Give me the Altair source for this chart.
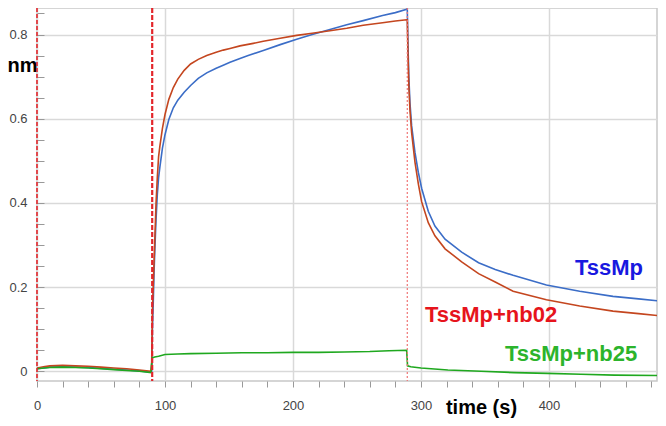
import altair as alt
import pandas as pd

# ---------------- data ----------------
blue_t = [0, 5, 10, 20, 30, 40, 50, 60, 70, 80, 89, 89.6, 90.2, 90.8, 91.5, 92.2, 93, 94, 95, 96, 98, 100, 103,
          106.5, 110, 115, 120, 126, 132.6, 140, 145.5, 150.8, 158.6, 165, 176.8, 190, 202.9, 215, 228.9, 242,
          254.9, 270, 280, 288.8, 289.3, 289.8, 290.5, 291.4, 292.7, 295.3, 297.9, 300.5, 305.7, 310.9, 318.8,
          331.8, 345, 358, 372, 398, 424, 450, 470, 489]
blue_v = [0.006, 0.008, 0.010, 0.011, 0.010, 0.009, 0.007, 0.005, 0.003, 0.001, -0.002, 0.0, 0.10, 0.16, 0.24,
          0.30, 0.36, 0.42, 0.46, 0.485, 0.53, 0.562, 0.598, 0.626, 0.644, 0.663, 0.679, 0.696, 0.709, 0.720,
          0.727, 0.734, 0.743, 0.750, 0.762, 0.776, 0.789, 0.800, 0.812, 0.823, 0.833, 0.845, 0.852, 0.860,
          0.862, 0.78, 0.70, 0.637, 0.583, 0.52, 0.473, 0.435, 0.38, 0.345, 0.314, 0.283, 0.258, 0.242, 0.228,
          0.205, 0.190, 0.178, 0.172, 0.166]

red_t = [0, 5, 10, 20, 30, 40, 50, 60, 70, 80, 89, 89.6, 90.2, 91, 92, 93, 94, 95, 96, 98, 100, 103, 106.5, 110,
         115, 120, 126, 132.6, 140, 145.5, 150.8, 158.6, 169, 176.8, 190, 202.9, 215, 228.9, 242, 254.9, 270, 280,
         288.8, 289.3, 289.8, 290.5, 291.4, 292.7, 295.3, 297.9, 300.5, 305.7, 310.9, 318.8, 331.8, 345, 358, 372,
         398, 424, 450, 470, 489]
red_v = [0.008, 0.011, 0.013, 0.014, 0.013, 0.012, 0.010, 0.008, 0.006, 0.003, 0.0, 0.02, 0.15, 0.22, 0.31, 0.40,
         0.46, 0.51, 0.535, 0.577, 0.610, 0.646, 0.674, 0.694, 0.715, 0.730, 0.741, 0.750, 0.758, 0.763, 0.767,
         0.773, 0.779, 0.784, 0.791, 0.798, 0.803, 0.809, 0.815, 0.822, 0.828, 0.832, 0.835, 0.835, 0.76, 0.68,
         0.62, 0.567, 0.497, 0.446, 0.403, 0.353, 0.322, 0.291, 0.260, 0.232, 0.212, 0.190, 0.170, 0.155, 0.143,
         0.137, 0.131]

green_t = [0, 10, 20, 30, 40, 50, 60, 70, 80, 89, 90, 92, 95, 100, 110, 120, 140, 160, 180, 200, 220, 240, 260,
           275, 288.8, 289.5, 292, 300, 321, 347, 373, 399, 425, 451, 489]
green_v = [0.006, 0.009, 0.010, 0.009, 0.008, 0.006, 0.004, 0.002, 0.0, -0.003, 0.032, 0.034, 0.036, 0.040,
           0.041, 0.042, 0.043, 0.044, 0.044, 0.045, 0.045, 0.046, 0.047, 0.049, 0.050, 0.013, 0.011, 0.008,
           0.003, 0.0, -0.003, -0.005, -0.007, -0.009, -0.010]

phase_heavy = [0, 90]          # start of baseline / association
phase_light = [289.3]          # start of dissociation

label_text = ["TssMp", "TssMp+nb02", "TssMp+nb25"]
label_t = [420.3, 303.1, 365.6]
label_v = [0.229, 0.117, 0.0245]

x_ticks = [0, 20, 40, 60, 80, 100, 120, 140, 160, 180, 200, 220, 240, 260, 280, 300, 320, 340, 360, 380, 400,
           420, 440, 460, 480]
y_ticks = [0, 0.05, 0.1, 0.15, 0.2, 0.25, 0.3, 0.35, 0.4, 0.45, 0.5, 0.55, 0.6, 0.65, 0.7, 0.75, 0.8, 0.85]

X_DOMAIN = [0, 484.4]
Y_DOMAIN = [-0.023, 0.863]

FONT = "Liberation Sans"

xscale = alt.Scale(domain=X_DOMAIN, nice=False, zero=False)
yscale = alt.Scale(domain=Y_DOMAIN, nice=False, zero=False)

x_axis = alt.Axis(
    values=x_ticks,
    labelExpr="datum.value % 100 === 0 ? datum.label : ''",
    labelOverlap=False, labelFlush=False,
    gridOpacity={"condition": {"test": "datum.value % 100 === 0", "value": 1}, "value": 0},
    gridColor="#d9d9d9", gridWidth=1.5,
    tickColor="#999999", tickSize=6, tickWidth=1,
    domain=False,
    labelFont=FONT, labelFontSize=13, labelColor="#444444", labelPadding=12,
    title="time (s)", titleFont=FONT, titleFontSize=20, titleFontWeight="bold", titleColor="#000000",
    titleX=444, titleY=32, titleAlign="center", titleBaseline="alphabetic",
)

y_axis = alt.Axis(
    values=y_ticks,
    format="~g",
    labelExpr="abs(datum.value*5 - round(datum.value*5)) < 0.001 ? datum.label : ''",
    labelOverlap=False, labelFlush=False,
    gridOpacity={"condition": {"test": "abs(datum.value*5 - round(datum.value*5)) < 0.001", "value": 1},
                 "value": 0},
    gridColor="#d9d9d9", gridWidth=1.5,
    tickColor="#999999", tickSize=7, tickWidth=1,
    domain=False, offset=-7,
    labelFont=FONT, labelFontSize=13, labelColor="#444444", labelPadding=10,
    title="nm", titleFont=FONT, titleFontSize=20, titleFontWeight="bold", titleColor="#000000",
    titleAngle=0, titleX=-22, titleY=63, titleAlign="center", titleBaseline="alphabetic",
)

X = alt.X("t:Q", scale=xscale, axis=x_axis)
Y = alt.Y("v:Q", scale=yscale, axis=y_axis)


def line_layer(ts, vs, color):
    df = pd.DataFrame({"t": ts, "v": vs})
    return alt.Chart(df).mark_line(color=color, strokeWidth=1.6, clip=True).encode(x=X, y=Y)


blue = line_layer(blue_t, blue_v, "#3b6dc7")
red = line_layer(red_t, red_v, "#c4461f")
green = line_layer(green_t, green_v, "#1fa81f")

rule_heavy0 = alt.Chart(pd.DataFrame({"t": phase_heavy[:1]})).mark_rule(
    color="#e3262b", strokeWidth=1.6, strokeDash=[4, 2]).encode(x=X)
rule_heavy1 = alt.Chart(pd.DataFrame({"t": phase_heavy[1:]})).mark_rule(
    color="#e3262b", strokeWidth=2.2, strokeDash=[5, 2]).encode(x=X)
rule_light = alt.Chart(pd.DataFrame({"t": phase_light})).mark_rule(
    color="#f07575", strokeWidth=1.2, strokeDash=[2, 2]).encode(x=X)

label_colors = ["#1818e0", "#e6141c", "#2cb42c"]
texts = []
for i in range(3):
    df = pd.DataFrame({"t": [label_t[i]], "v": [label_v[i]], "label": [label_text[i]]})
    texts.append(alt.Chart(df).mark_text(
        align="left", baseline="alphabetic", font=FONT, fontSize=22, fontWeight="bold", color=label_colors[i]
    ).encode(x=X, y=Y, text="label:N"))

chart = alt.layer(
    blue, red, green, rule_heavy0, rule_heavy1, rule_light, *texts
).properties(
    width=620, height=373,
    autosize=alt.AutoSizeParams(type="none"),
    padding={"left": 29, "top": 0, "right": 1, "bottom": 45},
).configure_view(
    stroke="#c8c8c8", strokeWidth=1.5
).configure_axisX(labelOverlap=False).configure_axisY(labelOverlap=False)

chart.save("out.html", embed_options={"renderer": "svg", "actions": False})
